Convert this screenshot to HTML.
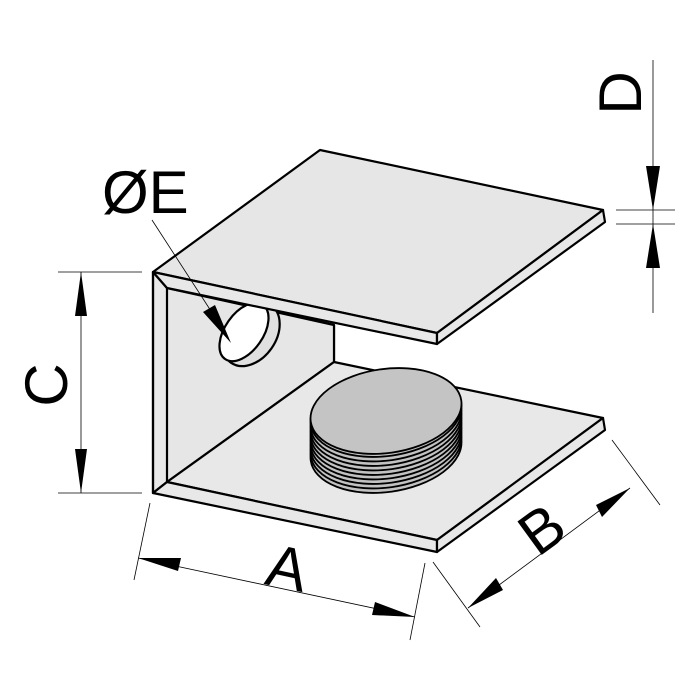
<!DOCTYPE html>
<html><head><style>html,body{margin:0;padding:0;background:#fff}svg{display:block}</style></head>
<body>
<svg width="700" height="699" viewBox="0 0 700 699" xmlns="http://www.w3.org/2000/svg">
<g stroke="#000" stroke-width="2.2" stroke-linejoin="round" fill="#e8e8e8">
<polygon points="153,272 167,288 334,325 334,362 167,482 153,493"/>
<polygon points="167,288 334,325 334,362 167,482" fill="#e6e6e6"/>
<ellipse cx="251" cy="334" rx="25" ry="35" transform="rotate(35 251 334)" fill="#e0e0e0"/>
<ellipse cx="244" cy="332" rx="19" ry="33" transform="rotate(35 244 332)" fill="#fff"/>
<polygon points="167,482 334,362 603,418 437,540" fill="#e8e8e8"/>
<polygon points="153,493 167,482 437,540 437,552" fill="#e8e8e8"/>
<polygon points="437,540 603,418 605,430 437,552" fill="#e8e8e8"/>
<polygon points="320,150 603,210 437,333 153,272" fill="#e6e6e6"/>
<polygon points="153,272 437,333 437,344 167,288" fill="#e8e8e8"/>
<polygon points="603,210 605,222 437,344 437,333" fill="#e8e8e8"/>
<line x1="153" y1="272" x2="153" y2="493"/>
</g>
<g stroke="#000" stroke-width="1.8" fill="#c2c2c2">
<ellipse cx="386" cy="450" rx="76" ry="42" transform="rotate(-8 386 450)"/>
<ellipse cx="386" cy="445.5" rx="76" ry="42" transform="rotate(-8 386 445.5)"/>
<ellipse cx="386" cy="441" rx="76" ry="42" transform="rotate(-8 386 441)"/>
<ellipse cx="386" cy="436.5" rx="76" ry="42" transform="rotate(-8 386 436.5)"/>
<ellipse cx="386" cy="432" rx="76" ry="42" transform="rotate(-8 386 432)"/>
<ellipse cx="386" cy="427.5" rx="76" ry="42" transform="rotate(-8 386 427.5)"/>
<ellipse cx="386" cy="423" rx="76" ry="42" transform="rotate(-8 386 423)"/>
<ellipse cx="386" cy="418.5" rx="76" ry="42" transform="rotate(-8 386 418.5)"/>
<ellipse cx="386" cy="414" rx="76" ry="42" transform="rotate(-8 386 414)"/>
<ellipse cx="386" cy="411" rx="76" ry="42" transform="rotate(-8 386 411)" fill="#c4c4c4"/>
</g>
<g stroke="#000" stroke-width="0.8" fill="none">
<line x1="58" y1="272" x2="142" y2="272"/><line x1="58" y1="493" x2="142" y2="493"/>
<line x1="81" y1="272" x2="81" y2="493"/>
<line x1="616" y1="210" x2="675" y2="210"/><line x1="616" y1="224" x2="675" y2="224"/>
<line x1="653" y1="60" x2="653" y2="313"/>
<line x1="150" y1="503" x2="134" y2="580"/><line x1="425" y1="563" x2="410" y2="640"/>
<line x1="138" y1="558" x2="415" y2="617"/>
<line x1="433" y1="562" x2="480" y2="627"/><line x1="612" y1="440" x2="660" y2="505"/>
<line x1="468" y1="608" x2="630" y2="488"/>
<line x1="152" y1="220" x2="222" y2="328"/>
</g>
<g fill="#000">
<polygon points="81,272 75,316 87,316"/><polygon points="81,493 75,449 87,449"/>
<polygon points="653,210 646,166 660,166"/><polygon points="653,224 646,268 660,268"/>
<polygon points="138,558 181,558 178,571"/><polygon points="415,617 375,602 372,615"/>
<polygon points="468,608 496,578 503,590"/><polygon points="630,488 602,517 596,505"/>
<polygon points="231,343 203,312 215,305"/>
</g>
<g font-family="Liberation Sans, sans-serif" font-size="60" fill="#000">
<text x="102" y="213">ØE</text>
<text x="0" y="0" transform="translate(67,385) rotate(-90)" text-anchor="middle">C</text>
<text x="0" y="0" transform="translate(641,93) rotate(-90)" text-anchor="middle">D</text>
<text x="0" y="0" transform="translate(283,588) rotate(12)" text-anchor="middle">A</text>
<text x="0" y="0" transform="translate(554,546) rotate(-36)" text-anchor="middle">B</text>
</g>
</svg>
</body></html>
